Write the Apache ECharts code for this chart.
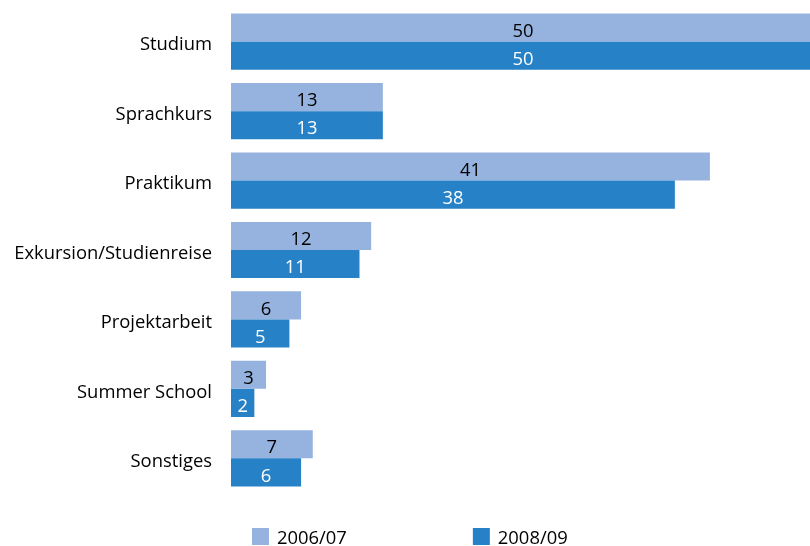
<!DOCTYPE html>
<html>
<head>
<meta charset="utf-8">
<script src="https://cdn.jsdelivr.net/npm/echarts@6/dist/echarts.min.js"></script>
<style>
  html, body { margin: 0; padding: 0; background: #fff; }
  #chart { width: 810px; height: 546px; }
</style>
</head>
<body>
<div id="chart"></div>
<script>
// Kategorien der Auslandsaufenthalte
const categories = ['Studium', 'Sprachkurs', 'Praktikum', 'Exkursion/Studienreise', 'Projektarbeit', 'Summer School', 'Sonstiges'];
const seriesNames = ['2006/07', '2008/09'];
const values0607 = [50, 13, 41, 12, 6, 3, 7];
const values0809 = [50, 13, 38, 11, 5, 2, 6];

const FONT = '"Open Sans", sans-serif';
const FS = 18.4;
// text style that sits a few pixels below the centre line
const lowered = (pad) => ({ fontFamily: FONT, fontSize: FS, color: '#000', padding: [pad, 0, 0, 0] });

const chart = echarts.init(document.getElementById('chart'), null, { renderer: 'canvas' });

chart.setOption({
  animation: false,
  grid: { left: 231, right: 0, top: 7, bottom: 53, containLabel: false },
  legend: {
    top: 528,
    left: 252,
    padding: 0,
    itemGap: 126,
    itemWidth: 17,
    itemHeight: 17,
    icon: 'rect',
    formatter: (name) => '{t|' + name + '}',
    textStyle: {
      fontFamily: FONT, fontSize: FS, color: '#000',
      rich: { t: Object.assign(lowered(5), { padding: [5, 0, 0, 3] }) }
    },
    data: seriesNames
  },
  xAxis: {
    type: 'value',
    min: 0,
    max: 49.57,
    show: false
  },
  yAxis: {
    type: 'category',
    data: categories,
    inverse: true,
    axisLine: { show: false },
    axisTick: { show: false },
    axisLabel: {
      fontFamily: FONT, fontSize: FS, color: '#000', margin: 19,
      formatter: (v) => '{c|' + v + '}',
      rich: { c: lowered(7) }
    }
  },
  series: [
    {
      name: seriesNames[0],
      type: 'bar',
      data: values0607,
      clip: false,
      barGap: '0%',
      barCategoryGap: '19%',
      itemStyle: { color: '#95B3DE' },
      label: { show: true, position: 'inside', offset: [0, 4], fontFamily: FONT, fontSize: FS, color: '#000' }
    },
    {
      name: seriesNames[1],
      type: 'bar',
      data: values0809,
      clip: false,
      barGap: '0%',
      barCategoryGap: '19%',
      itemStyle: { color: '#2681C6' },
      label: { show: true, position: 'inside', offset: [0, 4], fontFamily: FONT, fontSize: FS, color: '#fff' }
    }
  ]
});
</script>
</body>
</html>
